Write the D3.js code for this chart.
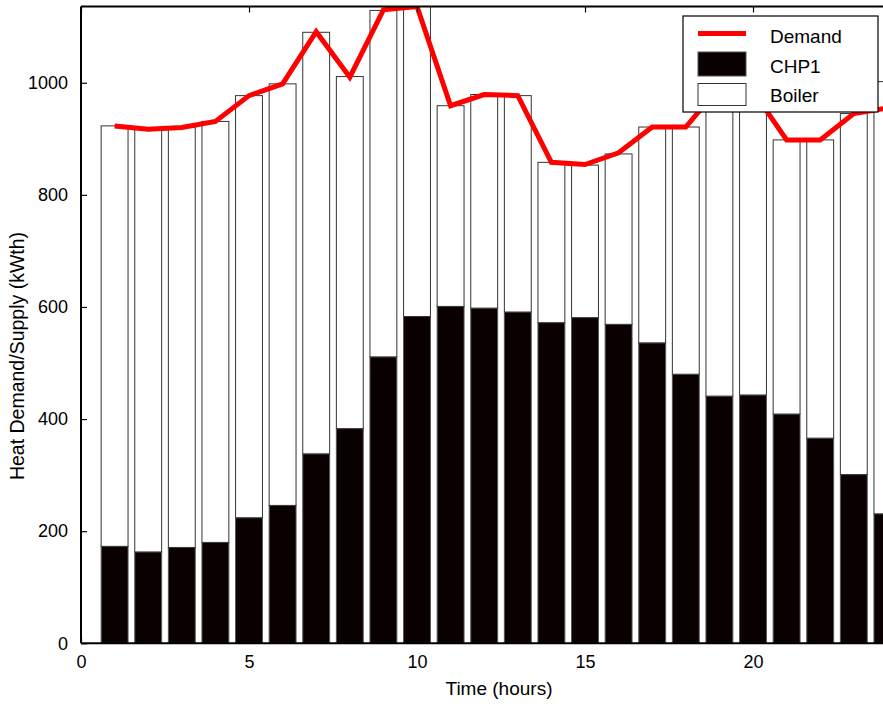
<!DOCTYPE html>
<html>
<head>
<meta charset="utf-8">
<script src="https://cdn.jsdelivr.net/npm/d3@7"></script>
<style>
  html, body { margin: 0; padding: 0; background: #fff; }
  svg { display: block; font-family: "Liberation Sans", Arial, sans-serif; }
</style>
</head>
<body>
<svg id="chart" width="883" height="704"></svg>
<script>
// Hourly heat balance: demand line over stacked CHP1 + boiler supply
const hours  = [1, 2, 3, 4, 5, 6, 7, 8, 9, 10, 11, 12, 13, 14, 15, 16, 17, 18, 19, 20, 21, 22, 23, 24];
const demand = [923, 917, 920, 931, 977, 998, 1091, 1010, 1130, 1136, 959, 979, 977, 858, 854, 875, 921, 921, 992, 985, 898, 898, 945, 955];
const chp1   = [173, 163, 171, 180, 224, 246, 338, 383, 511, 583, 601, 598, 591, 572, 581, 569, 536, 480, 441, 443, 409, 366, 301, 231];
const boiler = [750, 754, 749, 751, 753, 752, 752, 628, 618, 553, 358, 381, 386, 286, 272, 304, 385, 441, 551, 542, 489, 532, 644, 771];
const xTicks = [0, 5, 10, 15, 20];
const yTicks = [0, 200, 400, 600, 800, 1000];
const legendItems = ["Demand", "CHP1", "Boiler"];

const svg = d3.select("#chart");
const plotLeft = 81, plotTop = 6.5, plotBottom = 643.3, unit = 33.6;
const x = d3.scaleLinear().domain([0, 25]).range([plotLeft, plotLeft + 25 * unit]);
const y = d3.scaleLinear().domain([0, 1136]).range([plotBottom, plotTop]);
const barW = 0.8;

svg.append("defs").append("clipPath").attr("id", "plot")
  .append("rect").attr("x", plotLeft).attr("y", plotTop)
  .attr("width", 25 * unit).attr("height", plotBottom - plotTop);

const plot = svg.append("g").attr("clip-path", "url(#plot)");

const rows = hours.map((h, i) => ({ h, chp: chp1[i], boil: boiler[i], dem: demand[i] }));

// CHP1 segment
plot.selectAll("rect.chp").data(rows).join("rect")
  .attr("class", "chp")
  .attr("x", d => x(d.h - barW / 2))
  .attr("width", d => x(d.h + barW / 2) - x(d.h - barW / 2))
  .attr("y", d => y(d.chp))
  .attr("height", d => y(0) - y(d.chp))
  .attr("fill", "#0b0000")
  .attr("stroke", "#555")
  .attr("stroke-width", 1);

// Boiler segment stacked above CHP1
plot.selectAll("rect.boil").data(rows).join("rect")
  .attr("class", "boil")
  .attr("x", d => x(d.h - barW / 2))
  .attr("width", d => x(d.h + barW / 2) - x(d.h - barW / 2))
  .attr("y", d => y(d.chp + d.boil))
  .attr("height", d => y(d.chp) - y(d.chp + d.boil))
  .attr("fill", "#fff")
  .attr("stroke", "#333")
  .attr("stroke-width", 1);

// Demand line
plot.append("path")
  .datum(rows)
  .attr("d", d3.line().x(d => x(d.h)).y(d => y(d.dem)))
  .attr("fill", "none")
  .attr("stroke", "#ff0000")
  .attr("stroke-width", 5)
  .attr("stroke-linejoin", "miter");

// Axes: inward ticks on bottom, top and left
const xAxisB = d3.axisBottom(x).tickValues(xTicks).tickSize(-6).tickPadding(12).tickFormat(d3.format("d"));
const xAxisT = d3.axisTop(x).tickValues(xTicks).tickSize(-6).tickFormat("");
const yAxisL = d3.axisLeft(y).tickValues(yTicks).tickSize(-6).tickPadding(13).tickFormat(d3.format("d"));

function styleAxis(g) {
  g.select(".domain").remove();
  g.selectAll(".tick line").attr("stroke", "#000").attr("stroke-width", 1.2);
  g.selectAll(".tick text").attr("fill", "#000").attr("font-size", 18)
    .attr("font-family", "'Liberation Sans', Arial, sans-serif");
}

svg.append("g").attr("transform", `translate(0,${plotBottom})`).call(xAxisB).call(styleAxis);
svg.append("g").attr("transform", `translate(0,${plotTop})`).call(xAxisT).call(styleAxis);
svg.append("g").attr("transform", `translate(${plotLeft},0)`).call(yAxisL).call(styleAxis);

// Frame: left, bottom and top spines
svg.append("line").attr("x1", plotLeft).attr("x2", plotLeft).attr("y1", plotTop).attr("y2", plotBottom)
  .attr("stroke", "#000").attr("stroke-width", 2);
svg.append("line").attr("x1", plotLeft).attr("x2", 883).attr("y1", plotBottom).attr("y2", plotBottom)
  .attr("stroke", "#000").attr("stroke-width", 2);
svg.append("line").attr("x1", plotLeft).attr("x2", 883).attr("y1", plotTop).attr("y2", plotTop)
  .attr("stroke", "#000").attr("stroke-width", 2);

// Axis titles
svg.append("text")
  .attr("x", 499).attr("y", 695)
  .attr("text-anchor", "middle").attr("font-size", 19)
  .text("Time (hours)");
svg.append("text")
  .attr("transform", "translate(24,356) rotate(-90)")
  .attr("text-anchor", "middle").attr("font-size", 19.5)
  .text("Heat Demand/Supply (kWth)");

// Legend
const lg = svg.append("g");
lg.append("rect").attr("x", 683).attr("y", 16).attr("width", 195).attr("height", 96)
  .attr("fill", "#fff").attr("stroke", "#000").attr("stroke-width", 1.2);
lg.append("line").attr("x1", 698).attr("x2", 746).attr("y1", 33.5).attr("y2", 33.5)
  .attr("stroke", "#ff0000").attr("stroke-width", 5);
lg.append("rect").attr("x", 698).attr("y", 52).attr("width", 48).attr("height", 24)
  .attr("fill", "#0b0000").attr("stroke", "#555").attr("stroke-width", 1);
lg.append("rect").attr("x", 698).attr("y", 83.5).attr("width", 48).attr("height", 22)
  .attr("fill", "#fff").attr("stroke", "#333").attr("stroke-width", 1);
lg.selectAll("text.lt").data(legendItems).join("text")
  .attr("class", "lt")
  .attr("x", 770)
  .attr("y", (d, i) => [42.5, 72.5, 101.5][i])
  .attr("font-size", 19)
  .text(d => d);
</script>
</body>
</html>
